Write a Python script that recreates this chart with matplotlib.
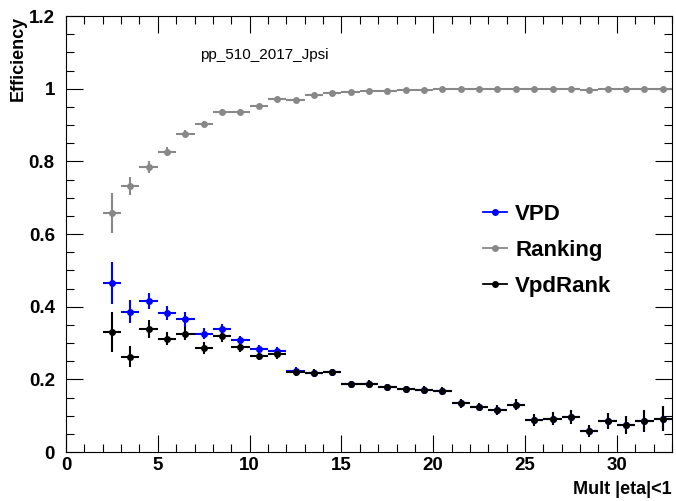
import numpy as np
import matplotlib
matplotlib.use("Agg")
import matplotlib.pyplot as plt
from matplotlib.lines import Line2D
from matplotlib.ticker import MultipleLocator

plt.rcParams["font.family"] = ["Liberation Sans", "DejaVu Sans"]

# bin centres in Mult |eta|<1
mult = [2.5, 3.5, 4.5, 5.5, 6.5, 7.5, 8.5, 9.5, 10.5, 11.5, 12.5,
        13.5, 14.5, 15.5, 16.5, 17.5, 18.5, 19.5, 20.5, 21.5, 22.5,
        23.5, 24.5, 25.5, 26.5, 27.5, 28.5, 29.5, 30.5, 31.5, 32.5]

vpd = [0.466, 0.386, 0.416, 0.382, 0.365, 0.326, 0.338, 0.309, 0.284, 0.279, 0.224,
       0.218, 0.219, 0.186, 0.187, 0.178, 0.173, 0.170, 0.167, 0.134, 0.124,
       0.115, 0.130, 0.088, 0.092, 0.096, 0.057, 0.085, 0.075, 0.086, 0.092]
vpd_err = [0.058, 0.032, 0.023, 0.020, 0.020, 0.015, 0.013, 0.011, 0.010, 0.010, 0.009,
           0.010, 0.010, 0.010, 0.010, 0.010, 0.010, 0.011, 0.011, 0.012, 0.012,
           0.013, 0.015, 0.016, 0.018, 0.020, 0.016, 0.022, 0.025, 0.030, 0.035]

ranking = [0.658, 0.733, 0.785, 0.827, 0.876, 0.903, 0.936, 0.937, 0.953, 0.973, 0.969,
           0.983, 0.988, 0.992, 0.995, 0.995, 0.997, 0.997, 0.998, 0.999, 0.999,
           0.998, 0.999, 0.999, 0.999, 0.999, 0.996, 0.999, 0.999, 0.999, 0.999]
ranking_err = [0.055, 0.025, 0.016, 0.012, 0.010, 0.008, 0.007, 0.006, 0.005, 0.005, 0.004,
               0.003, 0.003, 0.002, 0.002, 0.002, 0.001, 0.001, 0.001, 0.001, 0.001,
               0.001, 0.001, 0.001, 0.001, 0.001, 0.002, 0.001, 0.001, 0.001, 0.001]

vpdrank = [0.329, 0.262, 0.338, 0.312, 0.325, 0.286, 0.320, 0.288, 0.264, 0.269, 0.220,
           0.218, 0.219, 0.186, 0.187, 0.178, 0.173, 0.170, 0.167, 0.134, 0.124,
           0.115, 0.130, 0.088, 0.092, 0.096, 0.057, 0.085, 0.075, 0.086, 0.092]
vpdrank_err = [0.055, 0.029, 0.025, 0.018, 0.018, 0.017, 0.016, 0.014, 0.012, 0.012, 0.010,
               0.010, 0.010, 0.010, 0.010, 0.010, 0.010, 0.011, 0.011, 0.012, 0.012,
               0.013, 0.015, 0.016, 0.018, 0.020, 0.016, 0.022, 0.025, 0.030, 0.035]

series = [("VPD", vpd, vpd_err, "#0000ff"),
          ("Ranking", ranking, ranking_err, "#888888"),
          ("VpdRank", vpdrank, vpdrank_err, "#000000")]

fig = plt.figure(figsize=(6.76, 5.01), dpi=100)
ax = fig.add_axes([0.0976, 0.0978, 0.8964, 0.8702])

for name, y, e, c in series:
    ax.errorbar(mult, y, yerr=e, xerr=0.5, fmt="o", color=c, ms=5,
                elinewidth=1.5, capsize=0, mew=0)

ax.set_xlim(0, 33)
ax.set_ylim(0, 1.2)
ax.xaxis.set_major_locator(MultipleLocator(5))
ax.xaxis.set_minor_locator(MultipleLocator(1))
ax.yaxis.set_minor_locator(MultipleLocator(0.05))
ax.set_yticks([0, 0.2, 0.4, 0.6, 0.8, 1, 1.2])
ax.set_yticklabels(["0", "0.2", "0.4", "0.6", "0.8", "1", "1.2"])
ax.tick_params(which="both", direction="in", top=True, right=True,
               labelsize=13.5, width=0.8)
ax.tick_params(which="major", length=12)
ax.tick_params(which="minor", length=6)
ax.tick_params(axis="y", pad=8)
for lab in ax.get_xticklabels() + ax.get_yticklabels():
    lab.set_fontweight("bold")
for s in ax.spines.values():
    s.set_linewidth(0.8)

fig.text(0.994, 0.005, "Mult |eta|<1", ha="right", va="bottom",
         fontsize=13, fontweight="bold")
fig.text(0.027, 0.968, "Efficiency", ha="center", va="top", rotation=90,
         fontsize=13, fontweight="bold")
ax.text(0.221, 0.91, "pp_510_2017_Jpsi", transform=ax.transAxes, fontsize=11,
        va="center")

handles = [Line2D([0], [0], color=c, marker="o", ms=5, lw=1.3, mew=0)
           for _, _, _, c in series]
ax.legend(handles, [s[0] for s in series], loc="upper left",
          bbox_to_anchor=(0.655, 0.615), frameon=False, handlelength=1.1,
          handletextpad=0.35, labelspacing=0.68,
          prop={"size": 16, "weight": "bold"})

fig.savefig("out.png", dpi=100)
